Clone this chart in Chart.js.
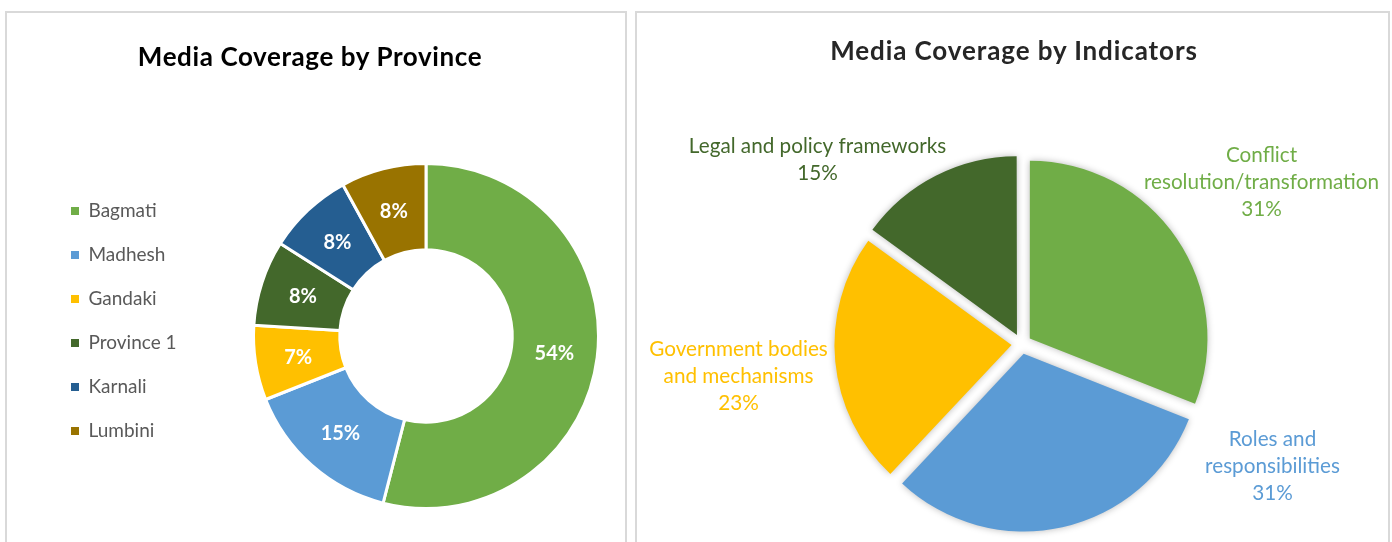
<!DOCTYPE html>
<html><head><meta charset="utf-8">
<script src="https://cdn.jsdelivr.net/npm/chart.js@4.4.1/dist/chart.umd.min.js"></script>
<style>
html,body{margin:0;padding:0;background:#fff;width:1392px;height:542px;overflow:hidden;}
.panel{position:absolute;top:11px;height:560px;border:2px solid #D9D9D9;box-sizing:border-box;overflow:hidden;background:#fff;}
#p1{left:5px;width:622px;}
#p2{left:635px;width:755px;}
canvas{position:absolute;left:0;top:0;}
.title{position:absolute;width:600px;text-align:center;font-family:Lato,sans-serif;font-weight:700;font-size:26px;line-height:26px;white-space:nowrap;}
</style></head>
<body>
<div class="panel" id="p1"><canvas id="c1" width="700" height="640" style="width:700px;height:640px"></canvas></div>
<div class="panel" id="p2"><canvas id="c2" width="751" height="640" style="width:751px;height:640px"></canvas></div>
<div class="title" style="left:10px;top:43px;color:#000;letter-spacing:0.6px">Media Coverage by Province</div>
<div class="title" style="left:714px;top:36.5px;color:#262626;letter-spacing:0.9px">Media Coverage by Indicators</div>
<script>
// ---- data ----
const provinceLabels = ['Bagmati', 'Madhesh', 'Gandaki', 'Province 1', 'Karnali', 'Lumbini'];
const provinceShares = [54, 15, 7, 8, 8, 8];
const provinceColors = ['#70AD47', '#5B9BD5', '#FFC000', '#43682B', '#255E91', '#997300'];

const indicatorLabels = [
  ['Conflict', 'resolution/transformation'],
  ['Roles and', 'responsibilities'],
  ['Government bodies', 'and mechanisms'],
  ['Legal and policy frameworks']
];
const indicatorShares = [31, 31, 23, 15];
const indicatorColors = ['#70AD47', '#5B9BD5', '#FFC000', '#43682B'];

// ---- layout / style (not data) ----
const indicatorLabelOffsets = [
  {dx: 240, dy: -162}, {dx: 251, dy: 122}, {dx: -283, dy: 32}, {dx: -204, dy: -184}
];
const LEFT_W = 700, DONUT_CX = 419, LEFT_PAD = 39;

// ---- left: doughnut ----
const sliceValuePlugin = {
  id: 'sliceValues',
  afterDatasetsDraw(chart) {
    const ctx = chart.ctx;
    const meta = chart.getDatasetMeta(0);
    ctx.save();
    ctx.font = 'bold 20px Lato';
    ctx.fillStyle = '#ffffff';
    ctx.textAlign = 'center';
    ctx.textBaseline = 'middle';
    meta.data.forEach((arc, i) => {
      const p = arc.getCenterPoint();
      ctx.fillText(provinceShares[i] + '%', p.x, p.y + 1);
    });
    ctx.restore();
  }
};

const cfg1 = {
  type: 'doughnut',
  data: {
    labels: provinceLabels,
    datasets: [{
      data: provinceShares,
      backgroundColor: provinceColors,
      borderColor: '#ffffff',
      borderWidth: 3,
      clip: false
    }]
  },
  options: {
    responsive: false,
    animation: false,
    events: [],
    cutout: '50%',
    radius: 172.5,
    layout: {padding: {left: LEFT_PAD, right: 40, top: 163.5, bottom: 157.5}},
    plugins: {
      tooltip: {enabled: false},
      title: {display: false},
      legend: {
        position: 'left',
        align: 'start',
        labels: {
          boxWidth: 8,
          boxHeight: 8,
          padding: 25,
          color: '#595959',
          font: {family: 'Lato', size: 19},
          generateLabels(chart) {
            const items = Chart.overrides.doughnut.plugins.legend.labels.generateLabels(chart);
            items.forEach(it => { it.lineWidth = 0; });
            return items;
          }
        }
      }
    }
  },
  plugins: [sliceValuePlugin]
};
const chart1 = new Chart(document.getElementById('c1'), cfg1);
cfg1.options.layout.padding.right = LEFT_PAD + chart1.legend.width + LEFT_W - 2 * DONUT_CX;
chart1.update();

// ---- right: exploded pie ----
const outsideLabelPlugin = {
  id: 'outsideLabels',
  afterDatasetsDraw(chart) {
    const ctx = chart.ctx;
    const meta = chart.getDatasetMeta(0);
    const lh = 27;
    ctx.save();
    ctx.font = '20.7px Lato';
    ctx.textAlign = 'center';
    ctx.textBaseline = 'middle';
    meta.data.forEach((arc, i) => {
      const lines = [].concat(indicatorLabels[i], [indicatorShares[i] + '%']);
      const cx = arc.x + indicatorLabelOffsets[i].dx;
      const cy = arc.y + indicatorLabelOffsets[i].dy;
      const y0 = cy - (lines.length - 1) * lh / 2;
      ctx.fillStyle = indicatorColors[i];
      lines.forEach((t, k) => ctx.fillText(t, cx, y0 + k * lh));
    });
    ctx.restore();
  }
};
const shadowPlugin = {
  id: 'sliceShadow',
  beforeDatasetDraw(chart) {
    const ctx = chart.ctx;
    ctx.save();
    ctx.shadowColor = 'rgba(0,0,0,0.28)';
    ctx.shadowBlur = 7;
  },
  afterDatasetDraw(chart) { chart.ctx.restore(); }
};

const chart2 = new Chart(document.getElementById('c2'), {
  type: 'pie',
  data: {
    labels: indicatorLabels,
    datasets: [{
      data: indicatorShares,
      backgroundColor: indicatorColors,
      borderWidth: 0,
      offset: 40,
      clip: false
    }]
  },
  options: {
    responsive: false,
    animation: false,
    events: [],
    radius: 177,
    layout: {padding: {left: 18, right: 0, top: 22, bottom: 0}},
    plugins: {
      tooltip: {enabled: false},
      legend: {display: false},
      title: {display: false}
    }
  },
  plugins: [shadowPlugin, outsideLabelPlugin]
});
</script>
</body></html>
